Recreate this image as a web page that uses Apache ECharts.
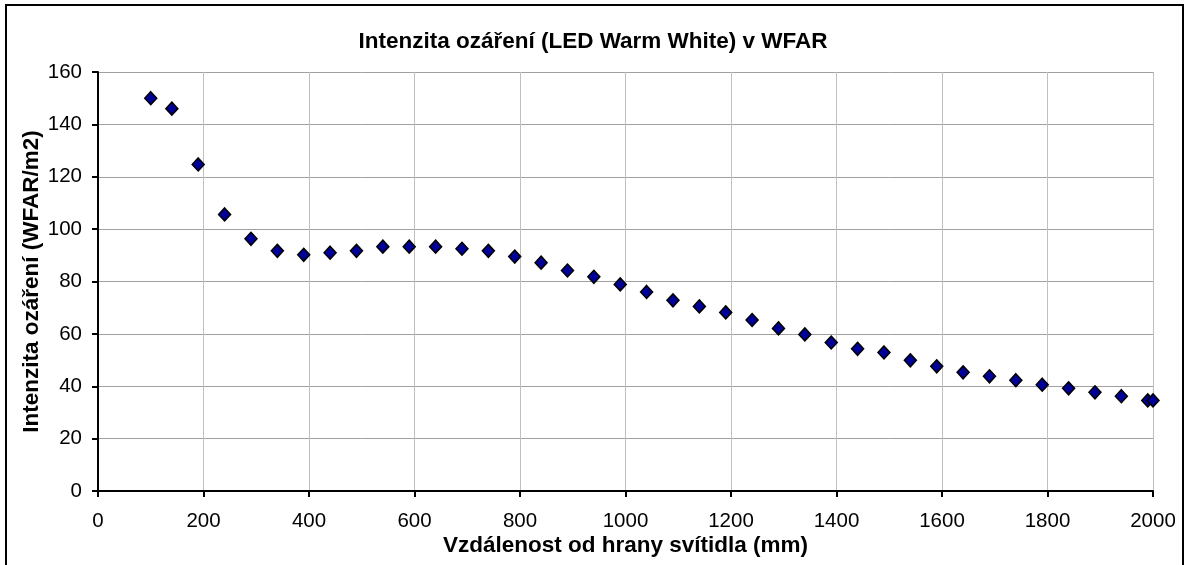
<!DOCTYPE html>
<html>
<head>
<meta charset="utf-8">
<script src="https://cdn.jsdelivr.net/npm/echarts@6/dist/echarts.min.js"></script>
<style>
html,body{margin:0;padding:0;background:#fff;}
#chart{width:1187px;height:565px;}
</style>
</head>
<body>
<div id="chart"></div>
<script>
var titleText = 'Intenzita ozáření (LED Warm White) v WFAR';
var xAxisName = 'Vzdálenost od hrany svítidla (mm)';
var yAxisName = 'Intenzita ozáření (WFAR/m2)';

var distances = [100, 140, 190, 240, 290, 340, 390, 440, 490, 540, 590, 640, 690, 740, 790, 840, 890, 940, 990, 1040,
  1090, 1140, 1190, 1240, 1290, 1340, 1390, 1440, 1490, 1540, 1590, 1640, 1690, 1740, 1790, 1840, 1890, 1940, 1990, 2000];
var intensity = [150.0, 146.0, 124.7, 105.6, 96.3, 91.7, 90.2, 91.0, 91.7, 93.3, 93.3, 93.3, 92.5, 91.7, 89.5, 87.2, 84.2, 81.8, 78.9, 76.0,
  72.8, 70.5, 68.2, 65.3, 62.1, 59.8, 56.7, 54.3, 52.9, 49.9, 47.6, 45.3, 43.8, 42.3, 40.6, 39.2, 37.7, 36.2, 34.6, 34.6];

var points = distances.map(function (d, i) { return [d, intensity[i]]; });

var FONT = '"Liberation Sans", Arial, sans-serif';
var chart = echarts.init(document.getElementById('chart'), null, {renderer: 'canvas'});
chart.setOption({
  backgroundColor: '#ffffff',
  animation: false,
  title: {
    text: titleText,
    left: 588,
    top: 25,
    textAlign: 'center',
    textStyle: {fontFamily: FONT, fontSize: 22.5, fontWeight: 'bold', color: '#000'}
  },
  graphic: [{
    type: 'rect',
    silent: true,
    shape: {x: 6, y: 5, width: 1177, height: 620},
    style: {fill: 'none', stroke: '#000', lineWidth: 2}
  }],
  grid: {left: 98, right: 34, top: 72, bottom: 74, containLabel: false},
  xAxis: {
    type: 'value',
    min: 0, max: 2000, interval: 200,
    name: xAxisName,
    nameLocation: 'middle',
    nameGap: 43,
    nameMoveOverlap: false,
    nameTextStyle: {fontFamily: FONT, fontSize: 22.5, fontWeight: 'bold', color: '#000'},
    axisLine: {show: true, onZero: false, lineStyle: {color: '#000', width: 2}},
    axisTick: {show: true, inside: false, length: 6, lineStyle: {color: '#000', width: 2}},
    axisLabel: {fontFamily: FONT, fontSize: 20.5, color: '#000', margin: 20, formatter: function (v) { return String(v); }},
    splitLine: {show: true, lineStyle: {color: '#c0c0c0', width: 1}}
  },
  yAxis: {
    type: 'value',
    min: 0, max: 160, interval: 20,
    name: yAxisName,
    nameLocation: 'middle',
    nameGap: 55,
    nameMoveOverlap: false,
    nameTextStyle: {fontFamily: FONT, fontSize: 22.5, fontWeight: 'bold', color: '#000'},
    axisLine: {show: true, onZero: false, lineStyle: {color: '#000', width: 2}},
    axisTick: {show: true, inside: false, length: 6, lineStyle: {color: '#000', width: 2}},
    axisLabel: {fontFamily: FONT, fontSize: 20.5, color: '#000', margin: 16, formatter: function (v) { return String(v); }},
    splitLine: {show: true, lineStyle: {color: '#a0a0a0', width: 1}}
  },
  series: [{
    type: 'scatter',
    data: points,
    symbol: 'diamond',
    symbolSize: [12, 13],
    itemStyle: {color: '#000099', borderColor: '#000', borderWidth: 1.5, opacity: 1}
  }]
});
</script>
</body>
</html>
